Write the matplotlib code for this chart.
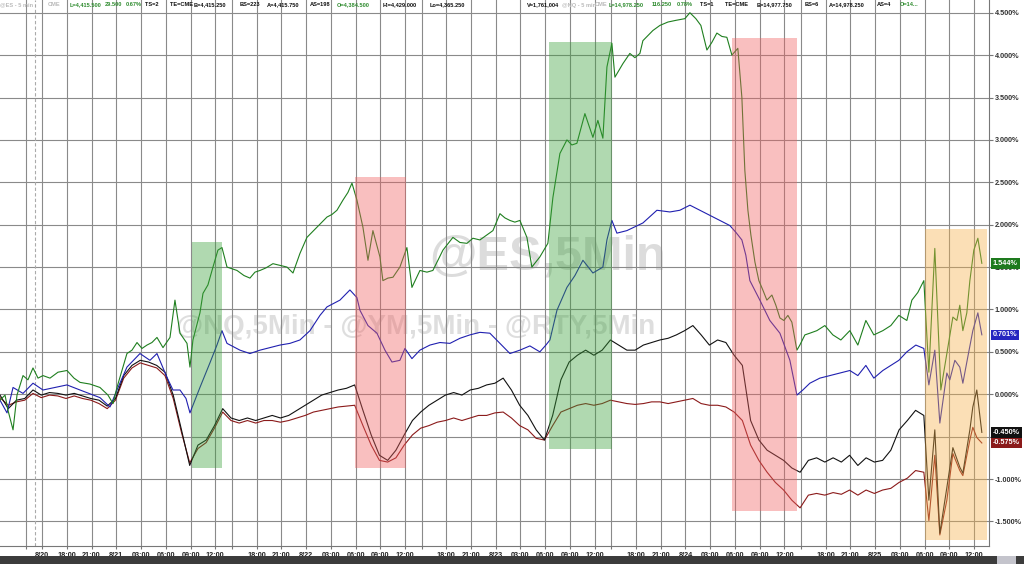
import matplotlib
matplotlib.use("Agg")
import matplotlib.pyplot as plt
from matplotlib import font_manager
from matplotlib.patches import Rectangle
from matplotlib.ticker import FixedLocator, FuncFormatter
import numpy as np

plt.rcParams['font.family'] = ['Liberation Sans', 'DejaVu Sans']
installed = {f.name for f in font_manager.fontManager.ttflist}
narrow = 'Liberation Sans Narrow' in installed

# x = trading hours since the left edge of the chart, y = % change
# @NQ (green)
nq_pts = [
    (0, -0.07), (0.61, -0.01), (0.97, -0.19), (1.58, -0.42), (2.06, -0.01), (2.79, 0.22),
    (3.39, 0.17), (4.0, 0.31), (4.61, 0.19), (5.21, 0.22), (6.06, 0.19), (7.03, 0.26),
    (8.12, 0.28), (8.97, 0.19), (9.70, 0.14), (10.91, 0.12), (12.12, 0.08), (13.09, -0.01),
    (13.70, -0.11), (14.18, 0.08), (14.79, 0.28), (15.39, 0.48), (16.0, 0.52), (16.61, 0.61),
    (17.21, 0.54), (17.82, 0.58), (18.42, 0.61), (19.03, 0.67), (19.76, 0.55), (20.61, 0.67),
    (21.21, 1.11), (21.82, 0.72), (22.67, 0.60), (23.03, 0.32), (23.39, 0.64), (24.24, 0.96),
    (24.61, 1.19), (25.21, 1.29), (25.82, 1.50), (26.42, 1.70), (26.91, 1.73), (27.52, 1.50),
    (28.73, 1.46), (29.58, 1.40), (30.30, 1.37), (30.91, 1.44), (31.52, 1.46), (32.24, 1.49),
    (33.09, 1.54), (33.94, 1.52), (34.79, 1.50), (35.52, 1.43), (36.36, 1.66), (37.21, 1.85),
    (37.82, 1.91), (38.42, 1.97), (39.03, 2.03), (39.64, 2.09), (40.24, 2.12), (40.85, 2.17),
    (41.58, 2.29), (42.18, 2.38), (42.67, 2.49), (43.27, 2.29), (44.0, 1.97), (44.61, 1.58),
    (45.21, 1.93), (46.06, 1.62), (46.42, 1.34), (47.03, 1.37), (47.64, 1.38), (48.48, 1.50),
    (49.33, 1.73), (49.94, 1.26), (50.91, 1.46), (51.76, 1.44), (52.48, 1.46), (53.70, 1.70),
    (54.91, 1.85), (55.76, 1.79), (56.61, 1.78), (57.33, 1.84), (58.18, 1.82), (59.03, 1.88),
    (59.76, 1.93), (60.61, 2.13), (61.21, 2.08), (61.82, 2.05), (62.42, 2.03), (63.03, 2.05),
    (63.88, 1.85), (64.48, 1.50), (64.97, 1.56), (65.45, 1.62), (66.42, 1.78), (67.03, 2.32),
    (67.88, 2.84), (68.73, 3.00), (69.33, 2.94), (69.94, 2.96), (70.91, 3.31), (71.39, 3.17),
    (71.88, 3.03), (72.48, 3.23), (73.09, 3.02), (73.58, 3.86), (74.18, 4.14), (74.55, 3.74),
    (75.52, 3.90), (76.36, 4.02), (76.97, 3.97), (77.58, 4.02), (77.94, 4.17), (78.55, 4.23),
    (79.15, 4.29), (80.0, 4.35), (80.97, 4.39), (81.94, 4.41), (83.03, 4.43), (83.64, 4.50),
    (84.36, 4.43), (84.97, 4.35), (85.70, 4.06), (86.30, 4.15), (86.91, 4.26), (87.52, 4.22),
    (88.12, 4.21), (88.73, 4.00), (89.45, 4.08), (89.94, 3.50), (90.30, 2.64), (90.67, 2.17),
    (91.03, 1.88), (91.52, 1.56), (92.0, 1.34), (92.48, 1.23), (92.97, 1.11), (93.58, 1.17),
    (94.06, 1.05), (94.55, 0.90), (95.03, 0.87), (95.52, 0.93), (96.0, 0.85), (96.61, 0.52),
    (96.97, 0.58), (97.58, 0.70), (98.18, 0.72), (99.03, 0.75), (100.0, 0.81), (100.97, 0.70),
    (101.94, 0.64), (103.03, 0.75), (104.0, 0.58), (104.97, 0.87), (105.94, 0.70), (107.03, 0.75),
    (108.0, 0.81), (108.97, 0.93), (109.94, 0.87), (110.55, 1.11), (111.27, 1.20), (112.0, 1.34),
    (112.61, 0.26), (113.33, 1.72), (114.06, 0.05), (114.79, 0.48), (115.52, 0.91), (116.0, 0.87),
    (116.36, 1.05), (116.73, 0.75), (117.21, 0.96), (117.58, 1.34), (118.06, 1.70), (118.55, 1.84),
    (119.03, 1.544),
]

# @ES (blue)
es_pts = [
    (0, -0.07), (0.85, -0.22), (1.58, 0.08), (2.79, 0.01), (4.0, 0.13), (5.21, 0.05),
    (6.67, 0.08), (8.12, 0.11), (9.70, 0.05), (12.12, -0.04), (13.33, -0.15), (14.18, 0.05),
    (15.39, 0.32), (16.97, 0.48), (18.18, 0.40), (19.03, 0.48), (20.24, 0.20), (20.97, 0.05),
    (21.82, 0.05), (22.55, -0.05), (23.03, -0.22), (24.24, 0.08), (25.45, 0.37), (26.30, 0.58),
    (26.91, 0.75), (27.52, 0.60), (29.09, 0.52), (30.30, 0.48), (31.52, 0.52), (32.73, 0.55),
    (33.94, 0.58), (35.15, 0.60), (36.36, 0.64), (37.58, 0.75), (38.79, 0.93), (39.64, 1.03),
    (41.21, 1.11), (42.42, 1.23), (43.27, 1.14), (43.64, 0.99), (44.61, 0.81), (45.70, 0.72),
    (46.67, 0.52), (47.52, 0.38), (48.48, 0.40), (49.09, 0.54), (49.94, 0.42), (50.91, 0.52),
    (52.12, 0.58), (53.33, 0.61), (54.55, 0.60), (55.76, 0.66), (56.97, 0.70), (58.18, 0.73),
    (59.39, 0.72), (60.61, 0.60), (61.82, 0.48), (63.03, 0.52), (64.24, 0.57), (65.45, 0.50),
    (66.18, 0.58), (66.67, 0.64), (67.52, 0.99), (68.73, 1.26), (69.70, 1.40), (70.67, 1.58),
    (71.88, 1.43), (73.09, 1.50), (73.58, 1.82), (74.18, 2.05), (74.79, 1.90), (76.0, 1.93),
    (77.94, 2.02), (79.64, 2.17), (81.21, 2.15), (82.42, 2.17), (83.64, 2.23), (84.85, 2.17),
    (86.06, 2.11), (87.27, 2.05), (88.48, 1.99), (89.21, 1.91), (89.94, 1.82), (90.42, 1.64),
    (90.91, 1.34), (92.12, 1.11), (93.33, 0.87), (94.55, 0.72), (95.76, 0.40), (96.61, -0.01),
    (97.33, 0.05), (98.18, 0.13), (99.39, 0.19), (100.61, 0.22), (101.82, 0.25), (103.03, 0.28),
    (104.0, 0.22), (104.97, 0.34), (105.94, 0.19), (107.03, 0.28), (108.0, 0.34), (108.97, 0.40),
    (109.94, 0.50), (111.03, 0.58), (112.0, 0.54), (112.61, 0.11), (113.33, 0.52), (113.94, -0.34),
    (114.79, 0.25), (115.15, 0.17), (115.76, 0.40), (116.36, 0.32), (116.73, 0.13), (117.33, 0.44),
    (117.94, 0.75), (118.55, 0.96), (119.03, 0.701),
]

# @YM (black) and @RTY (dark red): hourly to 111 h, finer inside the last window
dark_hours = list(range(112)) + [112.0, 112.61, 113.33, 113.94, 114.79, 115.52, 116.36,
                                116.73, 117.58, 117.94, 118.42, 119.03]

ym = [-0.01, -0.17, -0.07, -0.05, 0.05, -0.01, 0.02, 0.01, -0.01, 0.01,
      -0.02, -0.05, -0.07, -0.14, -0.05, 0.22, 0.34, 0.40, 0.38, 0.34,
      0.26, -0.01, -0.42, -0.84, -0.60, -0.54, -0.37, -0.17, -0.28, -0.31,
      -0.28, -0.31, -0.28, -0.25, -0.28, -0.25, -0.19, -0.13, -0.07, -0.01,
      0.02, 0.05, 0.07, 0.11, -0.19, -0.48, -0.72, -0.78, -0.66, -0.48,
      -0.31, -0.21, -0.13, -0.07, -0.01, 0.02, -0.01, 0.05, 0.07, 0.11,
      0.13, 0.19, 0.05, -0.13, -0.25, -0.42, -0.54, -0.25, 0.17, 0.38,
      0.46, 0.52, 0.46, 0.52, 0.64, 0.58, 0.52, 0.52, 0.58, 0.61,
      0.64, 0.66, 0.70, 0.75, 0.81, 0.70, 0.58, 0.64, 0.61, 0.46,
      0.34, -0.31, -0.54, -0.66, -0.72, -0.78, -0.87, -0.92, -0.78, -0.75,
      -0.80, -0.75, -0.80, -0.72, -0.84, -0.75, -0.80, -0.78, -0.66, -0.42,
      -0.31, -0.19,
      -0.25, -1.25, -0.42, -1.64, -1.10, -0.63, -0.86, -0.93, -0.42, -0.15, 0.05, -0.450]

rty = [-0.04, -0.13, -0.09, -0.07, 0.01, -0.04, -0.01, -0.02, -0.05, -0.02,
       -0.05, -0.07, -0.11, -0.17, -0.07, 0.19, 0.31, 0.37, 0.34, 0.31,
       0.22, -0.05, -0.45, -0.81, -0.64, -0.57, -0.40, -0.21, -0.31, -0.34,
       -0.31, -0.34, -0.31, -0.31, -0.33, -0.31, -0.28, -0.25, -0.21, -0.19,
       -0.17, -0.15, -0.14, -0.13, -0.37, -0.60, -0.78, -0.80, -0.75, -0.60,
       -0.48, -0.40, -0.37, -0.33, -0.31, -0.28, -0.31, -0.28, -0.25, -0.25,
       -0.22, -0.21, -0.28, -0.37, -0.42, -0.52, -0.54, -0.37, -0.21, -0.17,
       -0.13, -0.11, -0.13, -0.11, -0.07, -0.09, -0.11, -0.12, -0.11, -0.09,
       -0.09, -0.11, -0.09, -0.07, -0.05, -0.11, -0.13, -0.13, -0.15, -0.21,
       -0.31, -0.60, -0.78, -0.92, -1.04, -1.13, -1.25, -1.34, -1.19, -1.17,
       -1.19, -1.16, -1.18, -1.13, -1.19, -1.13, -1.17, -1.13, -1.11, -1.04,
       -0.99, -0.90,
       -0.92, -1.49, -0.72, -1.66, -1.25, -0.70, -0.90, -0.96, -0.54, -0.39, -0.51, -0.575]

# session opens (18:00) in trading hours; 23 hour sessions
session_open = [8.1, 31.1, 54.1, 77.1, 100.1]
day_labels = ["8/21", "8/22", "8/23", "8/24", "8/25"]

# highlighted windows: (start h, end h, low %, high %, colour)
boxes = [
    (23.25, 26.95, -0.87, 1.80, "#3aa03a"),
    (43.0, 49.2, -0.87, 2.56, "#f06060"),
    (66.55, 74.25, -0.64, 4.15, "#3aa03a"),
    (88.7, 96.6, -1.38, 4.20, "#f06060"),
    (112.1, 119.6, -1.72, 1.95, "#f5b04a"),
]

last_tags = [(1.544, "#1e7a1e"), (0.701, "#2525c0"), (-0.450, "#111111"), (-0.575, "#8b1a1a")]

fig = plt.figure(figsize=(10.24, 5.64), dpi=100)
ax = fig.add_axes([0.0, 18 / 564, 989 / 1024, 546 / 564])

# x ticks
tick_pos = [3.15, 5.05]
tick_lab = ["", "8/20"]
for o, d in zip(session_open, day_labels):
    if o > 10:
        tick_pos.append(o - 3)
        tick_lab.append("")
    for off, lab in zip([0, 3, 6, 9, 12, 15, 18], ["18:00", "21:00", d, "03:00", "06:00", "09:00", "12:00"]):
        tick_pos.append(o + off)
        tick_lab.append(lab)

ax.set_xlim(0, 119.9)
ax.set_ylim(-1.79, 4.65)

ax.xaxis.set_major_locator(FixedLocator(tick_pos))
ax.set_xticklabels(tick_lab)
ax.yaxis.set_major_locator(FixedLocator(np.arange(-1.5, 4.51, 0.5)))
ax.yaxis.set_major_formatter(FuncFormatter(lambda v, p: "%.3f%%" % v))
ax.yaxis.tick_right()
ax.grid(True, color="#8a8a8a", lw=0.8)
ax.set_axisbelow(True)
ax.axvline(4.24, color="#aaaaaa", lw=0.8, ls=(0, (3, 2)))

ax.tick_params(axis="x", length=2, color="#777777", labelsize=5.2, pad=2, labelcolor="#222222")
ax.tick_params(axis="y", length=3, color="#777777", labelsize=5.2, pad=1, labelcolor="#333333")
for lab in ax.get_xticklabels() + ax.get_yticklabels():
    lab.set_fontweight("bold")

for s in ["left", "top"]:
    ax.spines[s].set_visible(False)
ax.spines["right"].set_color("#777777")
ax.spines["bottom"].set_color("#777777")

# watermarks
wm_family = ['Liberation Sans Narrow', 'Liberation Sans'] if narrow else ['Liberation Sans']
wm_big = 42 if narrow else 35
wm_small = 24 if narrow else 20
ax.text(0.554, 0.529, "@ES,5Min", transform=ax.transAxes, fontsize=wm_big, fontweight="bold",
        family=wm_family, color="#dcdcdc", ha="center", va="center", zorder=0.5)
ax.text(0.42, 0.401, "@NQ,5Min - @YM,5Min - @RTY,5Min", transform=ax.transAxes, fontsize=wm_small,
        fontweight="bold", family=wm_family, color="#dedede", ha="center", va="center", zorder=0.5)

ax.plot(dark_hours, rty, color="#8b1a1a", lw=0.8)
ax.plot(dark_hours, ym, color="#111111", lw=0.8)
ax.plot([p[0] for p in es_pts], [p[1] for p in es_pts], color="#2020b0", lw=0.8)
ax.plot([p[0] for p in nq_pts], [p[1] for p in nq_pts], color="#1f7f1f", lw=0.8)

for x0, x1, y0, y1, c in boxes:
    ax.add_patch(Rectangle((x0, y0), x1 - x0, y1 - y0, facecolor=c, alpha=0.4, edgecolor="none", zorder=5))

for v, c in last_tags:
    ax.text(1.004, v, "%.3f%%" % v, transform=ax.get_yaxis_transform(), fontsize=5.2, fontweight="bold",
            color="white", va="center", ha="left", zorder=10, clip_on=False,
            bbox=dict(boxstyle="square,pad=0.25", fc=c, ec="none"))

# header quote line
header = [
    (0, "@ES - 5 min", "#bbbbbb"), (48, "CME", "#bbbbbb"), (70, "L=4,415.500", "#2e8b2e"),
    (105, "29.500", "#2e8b2e"), (126, "0.67%", "#2e8b2e"), (145, "TS=2", "#111111"),
    (170, "TE=CME", "#111111"), (194, "B=4,415.250", "#111111"), (240, "BS=223", "#111111"),
    (267, "A=4,415.750", "#111111"), (310, "AS=198", "#111111"), (337, "O=4,384.500", "#2e8b2e"),
    (383, "Hi=4,429.000", "#111111"), (430, "Lo=4,365.250", "#111111"), (527, "V=1,761,004", "#111111"),
    (562, "@NQ - 5 min", "#bbbbbb"), (595, "CME", "#bbbbbb"), (609, "L=14,978.250", "#2e8b2e"),
    (652, "116.250", "#2e8b2e"), (677, "0.78%", "#2e8b2e"), (700, "TS=1", "#111111"),
    (725, "TE=CME", "#111111"), (757, "B=14,977.750", "#111111"), (805, "BS=6", "#111111"),
    (829, "A=14,978.250", "#111111"), (877, "AS=4", "#111111"), (900, "O=14...", "#2e8b2e"),
]
for px, t, c in header:
    fig.text(px / 1024, 1 - 5 / 564, t, fontsize=4.1, fontweight="bold", color=c, va="center", ha="left")

# scroll bar strip at the bottom
fig.patches.append(Rectangle((0, 0), 1, 8 / 564, transform=fig.transFigure, facecolor="#3c3c3c", edgecolor="none"))
fig.patches.append(Rectangle((997 / 1024, 0), 19 / 1024, 8 / 564, transform=fig.transFigure, facecolor="#c4c4cc", edgecolor="none"))

fig.savefig("out.png", dpi=100)
